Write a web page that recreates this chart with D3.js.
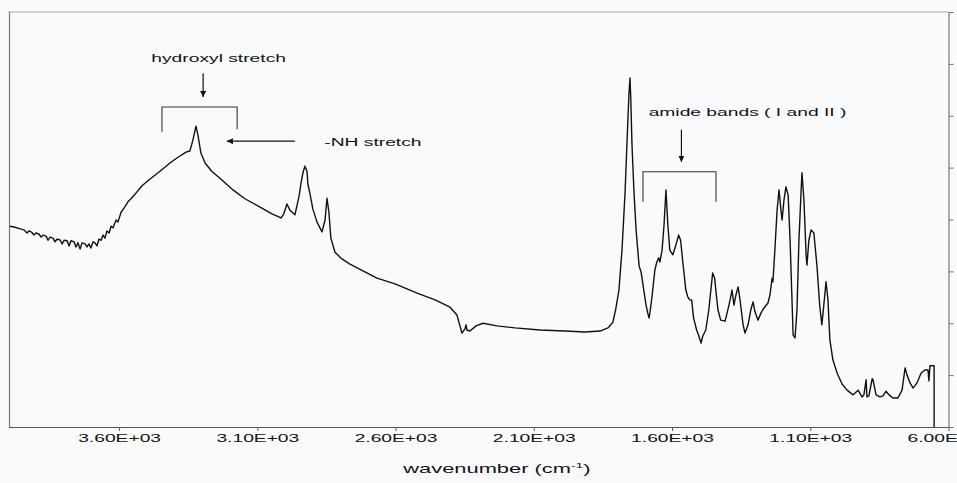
<!DOCTYPE html>
<html>
<head>
<meta charset="utf-8">
<script src="https://cdn.jsdelivr.net/npm/d3@7"></script>
<style>
  html, body { margin: 0; padding: 0; background: #f9fafb; }
  svg { display: block; }
  text { font-family: "Liberation Sans", Arial, sans-serif; fill: #111; }
</style>
</head>
<body>
<svg id="chart" width="957" height="483"></svg>
<script>
// ---- data ----
const wavenumber = [3995,3976,3958,3944,3933,3926,3915,3908,3901,3890,3882,3875,3864,3857,3850,3839,3832,3825,3814,3806,3799,3788,3781,3774,3763,3756,3749,3741,3734,3723,3716,3709,3702,3694,3687,3680,3673,3665,3658,3651,3644,3636,3629,3622,3611,3604,3593,3582,3568,3557,3542,3517,3488,3452,3416,3387,3358,3344,3333,3322,3315,3304,3289,3265,3228,3188,3145,3090,3047,3014,3004,2993,2982,2964,2949,2942,2935,2928,2920,2917,2910,2899,2884,2866,2855,2848,2841,2834,2819,2794,2765,2711,2667,2602,2522,2457,2403,2378,2367,2360,2349,2345,2342,2331,2309,2284,2233,2168,2078,1987,1915,1860,1832,1814,1804,1792,1781,1770,1763,1756,1752,1749,1745,1738,1730,1719,1712,1705,1694,1687,1683,1680,1672,1662,1655,1648,1644,1636,1629,1622,1615,1608,1597,1586,1576,1569,1561,1550,1543,1536,1529,1522,1511,1504,1495,1489,1478,1467,1453,1446,1434,1424,1408,1394,1383,1376,1369,1361,1354,1343,1336,1325,1315,1307,1300,1289,1278,1268,1253,1246,1238,1235,1228,1220,1213,1206,1202,1195,1188,1180,1173,1162,1155,1148,1141,1133,1130,1123,1115,1112,1105,1097,1087,1076,1066,1058,1051,1043,1036,1029,1018,1003,985,967,945,927,913,906,898,895,888,876,873,862,848,837,826,815,801,783,768,757,750,739,728,714,699,685,674,671,667,656,652,652];
const absorbance = [0.387,0.385,0.382,0.380,0.374,0.378,0.375,0.370,0.374,0.372,0.366,0.370,0.368,0.360,0.366,0.364,0.357,0.362,0.361,0.353,0.360,0.359,0.349,0.359,0.357,0.347,0.355,0.343,0.355,0.353,0.347,0.353,0.345,0.357,0.355,0.349,0.362,0.360,0.370,0.364,0.378,0.374,0.387,0.384,0.399,0.395,0.414,0.422,0.434,0.440,0.449,0.465,0.478,0.493,0.509,0.520,0.530,0.532,0.553,0.580,0.563,0.528,0.509,0.493,0.476,0.457,0.440,0.424,0.411,0.403,0.411,0.430,0.418,0.409,0.445,0.470,0.490,0.503,0.492,0.468,0.451,0.420,0.395,0.376,0.399,0.441,0.414,0.364,0.337,0.324,0.314,0.299,0.287,0.276,0.258,0.245,0.231,0.216,0.195,0.181,0.189,0.197,0.187,0.185,0.195,0.200,0.195,0.191,0.187,0.185,0.183,0.185,0.191,0.202,0.226,0.264,0.341,0.451,0.547,0.640,0.673,0.630,0.547,0.457,0.380,0.310,0.299,0.274,0.235,0.218,0.210,0.220,0.253,0.303,0.318,0.326,0.318,0.341,0.389,0.457,0.389,0.341,0.332,0.351,0.370,0.360,0.318,0.264,0.251,0.245,0.245,0.210,0.187,0.177,0.162,0.175,0.187,0.226,0.297,0.287,0.226,0.206,0.204,0.235,0.264,0.235,0.254,0.270,0.245,0.197,0.181,0.197,0.226,0.241,0.222,0.206,0.220,0.229,0.239,0.254,0.287,0.280,0.341,0.418,0.457,0.418,0.399,0.438,0.463,0.447,0.360,0.177,0.172,0.226,0.360,0.457,0.490,0.438,0.332,0.312,0.360,0.380,0.374,0.312,0.235,0.197,0.235,0.280,0.245,0.168,0.129,0.104,0.083,0.071,0.062,0.071,0.058,0.062,0.091,0.058,0.060,0.093,0.091,0.062,0.058,0.060,0.069,0.062,0.056,0.056,0.071,0.114,0.100,0.085,0.075,0.085,0.104,0.110,0.110,0.089,0.118,0.118,0.118,0.000];
const xTicks = [3600, 3100, 2600, 2100, 1600, 1100, 600];
const xTickLabels = ["3.60E+03","3.10E+03","2.60E+03","2.10E+03","1.60E+03","1.10E+03","6.00E+02"];
const yTicks = [0, 0.1, 0.2, 0.3, 0.4, 0.5, 0.6, 0.7, 0.8];
const xTitle = "wavenumber (cm";
const xTitleSup = "-1";
const annotationTexts = ["hydroxyl stretch", "-NH stretch", "amide bands ( I and II )"];

// ---- layout ----
const svg = d3.select("#chart");
const mLeft = 8.5, mRight = 948.5, mTop = 12, mBottom = 427;
const SX = 1.75; // horizontal stretch of the scanned text

const x = d3.scaleLinear().domain([4000, 600]).range([mLeft, mRight]);
const y = d3.scaleLinear().domain([0, 0.8]).range([mBottom, mTop]);

// frame: top + left border
svg.append("line").attr("x1", mLeft).attr("x2", mRight).attr("y1", mTop).attr("y2", mTop)
  .attr("stroke", "#aaa").attr("stroke-width", 1);
svg.append("line").attr("x1", mLeft + 1).attr("x2", mLeft + 1).attr("y1", mTop).attr("y2", mBottom)
  .attr("stroke", "#777").attr("stroke-width", 1.2);

// bottom axis
const xAxis = d3.axisBottom(x).tickValues(xTicks)
  .tickFormat((d, i) => xTickLabels[i]).tickSize(4).tickSizeOuter(0);
const gx = svg.append("g").attr("transform", `translate(0,${mBottom})`).call(xAxis);
gx.select(".domain").attr("stroke", "#555").attr("stroke-width", 1.2);
gx.selectAll(".tick line").attr("stroke", "#555");
gx.selectAll(".tick text")
  .attr("y", 15).attr("dy", 0)
  .attr("font-size", 11).attr("fill", "#111")
  .attr("font-family", "Liberation Sans, Arial, sans-serif")
  .attr("transform", `scale(${SX},1)`);

// right axis (unlabelled ticks)
const yAxis = d3.axisRight(y).tickValues(yTicks).tickFormat("").tickSize(5).tickSizeOuter(0);
const gy = svg.append("g").attr("transform", `translate(${mRight},0)`).call(yAxis);
gy.select(".domain").attr("stroke", "#777").attr("stroke-width", 1.2);
gy.selectAll(".tick line").attr("stroke", "#777");

// x title
const title = svg.append("text")
  .attr("transform", `translate(497,473) scale(${SX},1)`)
  .attr("text-anchor", "middle").attr("font-size", 12.5);
title.append("tspan").text(xTitle);
title.append("tspan").attr("font-size", 8).attr("dy", -5).text(xTitleSup);
title.append("tspan").attr("dy", 5).text(")");

// spectrum
const pts = wavenumber.map((w, i) => [w, absorbance[i]]);
svg.append("path").datum(pts)
  .attr("fill", "none").attr("stroke", "#111").attr("stroke-width", 1.4)
  .attr("stroke-linejoin", "round")
  .attr("d", d3.line().x(d => x(d[0])).y(d => y(d[1])));

// ---- annotations (positions in data units) ----
const defs = svg.append("defs");
defs.append("marker").attr("id", "ah").attr("viewBox", "0 0 10 10")
  .attr("refX", 10).attr("refY", 5).attr("markerWidth", 6).attr("markerHeight", 6)
  .attr("markerUnits", "userSpaceOnUse").attr("orient", "auto")
  .append("path").attr("d", "M0,0 L10,5 L0,10 Z").attr("fill", "#111");

function label(txt, w, v) {
  svg.append("text").attr("transform", `translate(${x(w)},${y(v)}) scale(${SX},1)`)
    .attr("text-anchor", "middle").attr("font-size", 11).text(txt);
}
function arrow(w1, v1, w2, v2) {
  svg.append("line").attr("x1", x(w1)).attr("y1", y(v1)).attr("x2", x(w2)).attr("y2", y(v2))
    .attr("stroke", "#111").attr("stroke-width", 1.2).attr("marker-end", "url(#ah)");
}
function bracket(w1, w2, vTop, vL, vR) {
  svg.append("path")
    .attr("d", `M${x(w1)},${y(vL)} L${x(w1)},${y(vTop)} L${x(w2)},${y(vTop)} L${x(w2)},${y(vR)}`)
    .attr("fill", "none").attr("stroke", "#333").attr("stroke-width", 1.1);
}

label(annotationTexts[0], 3240, 0.703);
arrow(3296, 0.682, 3296, 0.636);
bracket(3445, 3173, 0.617, 0.569, 0.574);

label(annotationTexts[1], 2682, 0.542);
arrow(2964, 0.551, 3210, 0.551);

label(annotationTexts[2], 1327, 0.600);
arrow(1566, 0.573, 1566, 0.511);
bracket(1705, 1441, 0.492, 0.434, 0.434);
</script>
</body>
</html>
